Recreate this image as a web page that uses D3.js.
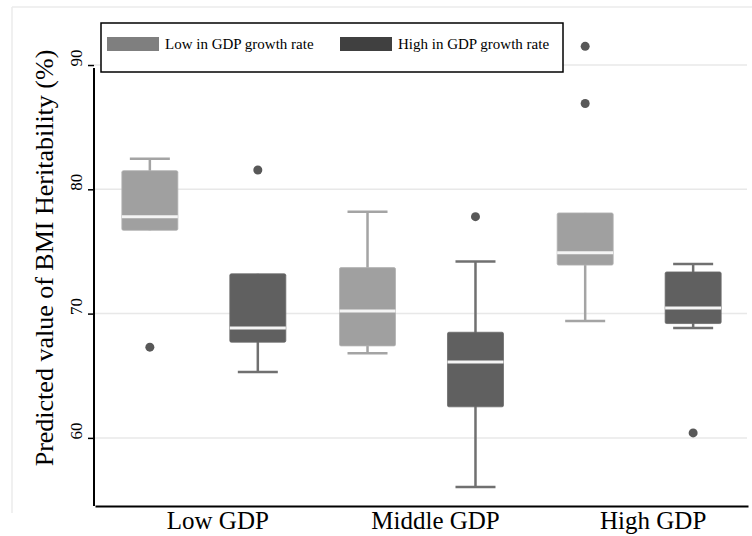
<!DOCTYPE html>
<html>
<head>
<meta charset="utf-8">
<script src="https://cdn.jsdelivr.net/npm/d3@7"></script>
<style>
  body { margin: 0; background: #fff; }
  svg { display: block; font-family: 'Liberation Serif', 'Times New Roman', serif; }
</style>
</head>
<body>
<svg id="chart"></svg>
<script>
const width = 752;
const height = 536;

const groups = ['Low GDP', 'Middle GDP', 'High GDP'];
const series = ['Low in GDP growth rate', 'High in GDP growth rate'];
const yTicks = [60, 70, 80, 90];

// box stats per group: [Low GDP, Middle GDP, High GDP]
const lowGrowthMin = [76.7, 66.8, 69.4];
const lowGrowthQ1 = [76.7, 67.4, 73.9];
const lowGrowthMedian = [77.8, 70.2, 74.9];
const lowGrowthQ3 = [81.5, 73.7, 78.1];
const lowGrowthMax = [82.45, 78.2, 78.1];
const lowGrowthOutliers = [[67.3], [], [86.9, 91.5]];

const highGrowthMin = [65.3, 56.05, 68.85];
const highGrowthQ1 = [67.7, 62.5, 69.2];
const highGrowthMedian = [68.85, 66.1, 70.45];
const highGrowthQ3 = [73.2, 68.5, 73.35];
const highGrowthMax = [73.2, 74.2, 74.0];
const highGrowthOutliers = [[81.55], [77.8], [60.4]];

const BOX_COLORS = ['#a0a0a0', '#606060'];
const WHISKER_COLORS = ['#a4a4a4', '#707070'];
const LEGEND_COLORS = ['#7f7f7f', '#404040'];

const boxes = [];
groups.forEach(function(g, i) {
  boxes.push({ group: g, series: series[0], min: lowGrowthMin[i], q1: lowGrowthQ1[i], median: lowGrowthMedian[i], q3: lowGrowthQ3[i], max: lowGrowthMax[i], outliers: lowGrowthOutliers[i] });
  boxes.push({ group: g, series: series[1], min: highGrowthMin[i], q1: highGrowthQ1[i], median: highGrowthMedian[i], q3: highGrowthQ3[i], max: highGrowthMax[i], outliers: highGrowthOutliers[i] });
});

const plotLeft = 94, plotRight = 747, plotTop = 68, plotBottom = 506;

const svg = d3.select('#chart').attr('width', width).attr('height', height);

// faint outer frame
svg.append('line').attr('x1', 12).attr('x2', width).attr('y1', 7).attr('y2', 7)
  .attr('stroke', '#ebebeb').attr('stroke-width', 1.5);
svg.append('line').attr('x1', 12).attr('x2', 12).attr('y1', 7).attr('y2', 513)
  .attr('stroke', '#ebebeb').attr('stroke-width', 1.5);

const y = d3.scaleLinear().domain([54.52, 89.76]).range([plotBottom, plotTop]);
const x = d3.scaleBand().domain(groups).range([plotLeft + 1, plotRight + 1]);
const xs = d3.scalePoint().domain(series).range([0, x.bandwidth()]).padding(0.508);
const boxW = 56;
const capW = 40;

const cx = function(d) { return x(d.group) + xs(d.series); };
const si = function(d) { return series.indexOf(d.series); };

// gridlines
svg.append('g').selectAll('line').data(yTicks).enter().append('line')
  .attr('x1', plotLeft).attr('x2', plotRight)
  .attr('y1', function(d) { return y(d); }).attr('y2', function(d) { return y(d); })
  .attr('stroke', '#e8e8e8').attr('stroke-width', 1.5);

// y axis
const yAxis = svg.append('g')
  .attr('transform', `translate(${plotLeft},0)`)
  .call(d3.axisLeft(y).tickValues(yTicks).tickSize(6).tickSizeOuter(0));
yAxis.select('.domain').remove();
yAxis.selectAll('.tick line').attr('stroke', '#000').attr('stroke-width', 1.5);
yAxis.selectAll('.tick text')
  .attr('x', null).attr('dy', null)
  .attr('text-anchor', 'start')
  .attr('transform', 'translate(-12,1) rotate(-90)')
  .style('font-family', "'Liberation Serif', serif")
  .style('font-size', '17px')
  .attr('fill', '#000');

svg.append('line').attr('x1', plotLeft).attr('x2', plotLeft).attr('y1', plotTop).attr('y2', plotBottom)
  .attr('stroke', '#000').attr('stroke-width', 2);

// x axis
const xAxis = svg.append('g')
  .attr('transform', `translate(0,${plotBottom})`)
  .call(d3.axisBottom(x).tickSize(0).tickSizeOuter(0));
xAxis.select('.domain').attr('stroke', '#000').attr('stroke-width', 2);
xAxis.selectAll('.tick text')
  .attr('dx', 14).attr('dy', null).attr('y', 23)
  .style('font-family', "'Liberation Serif', serif")
  .style('font-size', '25px')
  .attr('fill', '#000');

// axis title
svg.append('text')
  .attr('transform', 'translate(53,258) rotate(-90)')
  .attr('text-anchor', 'middle')
  .style('font-size', '26px')
  .text('Predicted value of BMI Heritability (%)');

const boxG = svg.append('g').selectAll('g').data(boxes).enter().append('g');

// whiskers
boxG.append('line')
  .attr('x1', cx).attr('x2', cx)
  .attr('y1', function(d) { return y(d.max); })
  .attr('y2', function(d) { return y(d.min); })
  .attr('stroke', function(d) { return WHISKER_COLORS[si(d)]; })
  .attr('stroke-width', 2.5);

boxG.each(function(d) {
  const g = d3.select(this);
  [d.min, d.max].forEach(function(v) {
    if (v === d.q1 || v === d.q3) return;
    g.append('line')
      .attr('x1', cx(d) - capW / 2).attr('x2', cx(d) + capW / 2)
      .attr('y1', y(v)).attr('y2', y(v))
      .attr('stroke', WHISKER_COLORS[si(d)])
      .attr('stroke-width', 2.5);
  });
});

boxG.append('rect')
  .attr('x', function(d) { return cx(d) - boxW / 2; })
  .attr('y', function(d) { return y(d.q3); })
  .attr('width', boxW)
  .attr('height', function(d) { return y(d.q1) - y(d.q3); })
  .attr('rx', 1.5)
  .attr('fill', function(d) { return BOX_COLORS[si(d)]; })
  .attr('stroke', function(d) { return d3.color(BOX_COLORS[si(d)]).brighter(0.3); })
  .attr('stroke-width', 0.8);

boxG.append('line')
  .attr('x1', function(d) { return cx(d) - boxW / 2; })
  .attr('x2', function(d) { return cx(d) + boxW / 2; })
  .attr('y1', function(d) { return y(d.median); })
  .attr('y2', function(d) { return y(d.median); })
  .attr('stroke', '#f4f4f4')
  .attr('stroke-width', 3);

boxG.selectAll('circle')
  .data(function(d) { return d.outliers.map(function(v) { return { v: v, box: d }; }); })
  .enter().append('circle')
  .attr('cx', function(o) { return cx(o.box); })
  .attr('cy', function(o) { return y(o.v); })
  .attr('r', 4.5)
  .attr('fill', '#585858');

// legend
const legend = svg.append('g');
legend.append('rect')
  .attr('x', 101).attr('y', 23).attr('width', 462).attr('height', 49)
  .attr('fill', '#fff').attr('stroke', '#000').attr('stroke-width', 1.5);

const legendX = d3.scalePoint().domain(series).range([107, 340]);
const item = legend.selectAll('.item').data(series).enter().append('g')
  .attr('transform', function(d) { return `translate(${legendX(d)},37)`; });
item.append('rect')
  .attr('width', 52).attr('height', 14)
  .attr('fill', function(d, i) { return LEGEND_COLORS[i]; });
item.append('text')
  .attr('x', 58).attr('y', 12)
  .style('font-size', '15px')
  .text(function(d) { return d; });
</script>
</body>
</html>
